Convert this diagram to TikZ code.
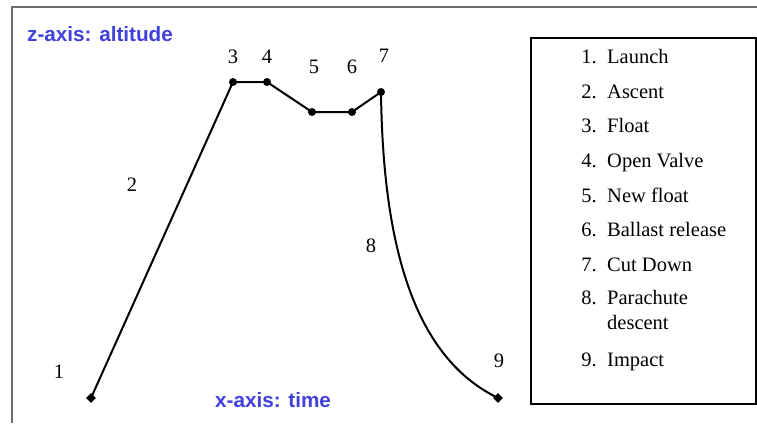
\documentclass[tikz,border=0pt]{standalone}
\usepackage{fontspec}
\setmainfont{Liberation Serif}
\newfontfamily\arialfont{Liberation Sans}
\usetikzlibrary{shapes.geometric}
\definecolor{axisblue}{RGB}{64,64,220}
\definecolor{framegray}{RGB}{110,110,110}
\begin{document}
\begin{tikzpicture}[x=1pt,y=-1pt,
  lbl/.style={anchor=base,inner sep=0pt,font=\fontsize{20.5}{24}\selectfont},
  num/.style={anchor=base east,inner sep=0pt,font=\fontsize{20.5}{24}\selectfont},
  txt/.style={anchor=base west,inner sep=0pt,font=\fontsize{20.5}{24}\selectfont},
  axislbl/.style={anchor=base west,inner sep=0pt,text=axisblue,font=\arialfont\bfseries\fontsize{20.7}{24}\selectfont},
  dot/.style={circle,fill=black,inner sep=0pt,minimum size=8pt},
  dia/.style={diamond,fill=black,inner sep=0pt,minimum size=10pt},
  path/.style={line width=2pt,black}]
\useasboundingbox (0,0) rectangle (757,423);
% outer frame (top and left only)
\draw[framegray,line width=1.6pt] (12,423) -- (12,7) -- (757,7);
% legend box
\node[draw,line width=2pt,minimum width=225pt,minimum height=366pt,inner sep=0pt,anchor=north west] (legend) at (530,37) {};
% axis labels
\node[axislbl] (zlab) at (27,41) {z-axis: altitude};
\node[axislbl] (xlab) at (215,407) {x-axis: time};
% points
\node[dia] (p1) at (91,398) {};
\node[dot] (p3) at (233,82) {};
\node[dot] (p4) at (267,82) {};
\node[dot] (p5) at (312,112) {};
\node[dot] (p6) at (352,112) {};
\node[dot] (p7) at (381,92) {};
\node[dia] (p9) at (498,398) {};
% paths
\draw[path] (p1.center) -- (p3.center) -- (p4.center) -- (p5.center) -- (p6.center) -- (p7.center);
\draw[path] (p7.center) .. controls (383,260) and (420,360) .. (p9.center);
% diagram labels
\node[lbl] (l1) at (59,378) {1};
\node[lbl] (l2) at (132,191) {2};
\node[lbl] (l3) at (233,63) {3};
\node[lbl] (l4) at (267,63) {4};
\node[lbl] (l5) at (314,73) {5};
\node[lbl] (l6) at (352,73) {6};
\node[lbl] (l7) at (384,62) {7};
\node[lbl] (l8) at (371,252) {8};
\node[lbl] (l9) at (499,367) {9};
% legend entries
\node[num] (n1) at (597,63) {1.};  \node[txt] (t1) at (607,63) {Launch};
\node[num] (n2) at (597,98) {2.};  \node[txt] (t2) at (607,98) {Ascent};
\node[num] (n3) at (597,132) {3.}; \node[txt] (t3) at (607,132) {Float};
\node[num] (n4) at (597,167) {4.}; \node[txt] (t4) at (607,167) {Open Valve};
\node[num] (n5) at (597,202) {5.}; \node[txt] (t5) at (607,202) {New float};
\node[num] (n6) at (597,236) {6.}; \node[txt] (t6) at (607,236) {Ballast release};
\node[num] (n7) at (597,271) {7.}; \node[txt] (t7) at (607,271) {Cut Down};
\node[num] (n8) at (597,304) {8.}; \node[txt] (t8) at (607,304) {Parachute};
\node[txt] (t8b) at (607,329) {descent};
\node[num] (n9) at (597,366) {9.}; \node[txt] (t9) at (607,366) {Impact};
\end{tikzpicture}
\end{document}
